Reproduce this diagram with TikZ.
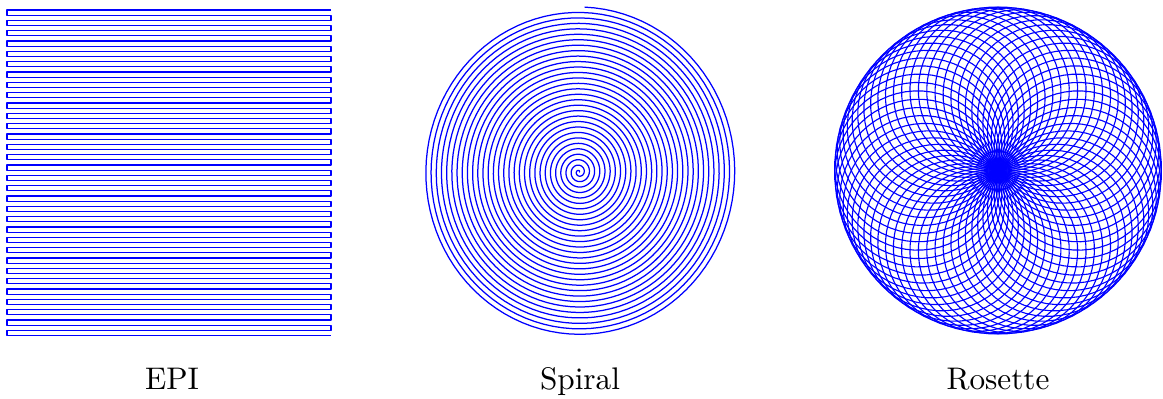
\documentclass[tikz,border=0pt]{standalone}
\usepackage{tikz}
\tikzset{
  traj/.style={draw=blue, line width=0.4pt, line join=round},
  rosetraj/.style={draw=blue, line width=0.36pt, line join=round},
  caption/.style={font=\normalsize, anchor=base, inner sep=0pt}
}
\begin{document}
\begin{tikzpicture}[x=0.32pt, y=0.32pt]
\useasboundingbox (0,-398) rectangle (1163,0);
% EPI raster
\draw[traj] (331,-10)
  \foreach \j in {0,...,31} {
    -- (331,{-10-10.3333*\j}) -- (7,{-10-10.3333*\j})
    -- (7,{-10-10.3333*\j-5.1667}) -- (331,{-10-10.3333*\j-5.1667})
  };
% Spiral
\draw[traj] plot[domain=0:10888, samples=3001]
  ({579+157*(\x/10888)*cos(\x)}, {-172+165*(\x/10888)*sin(\x)});
% Rosette
\def\Na{30}
\def\Nb{31}
\pgfmathsetmacro\cc{\Nb/\Na}
\begin{scope}[shift={(998,-170.5)}]
\foreach \k in {0,...,59} {
  \pgfmathsetmacro\base{180*mod(\k*(\Na+\Nb),2*\Na)/\Na}
  \draw[rosetraj] plot[domain=0:180, samples=61] ({\base+\cc*\x}:{163.5*sin(\x)});
}
\end{scope}
\node[caption] (epi) at (172,-389) {EPI};
\node[caption] (spiral) at (580,-389) {Spiral};
\node[caption] (rosette) at (998,-389) {Rosette};
\end{tikzpicture}
\end{document}
